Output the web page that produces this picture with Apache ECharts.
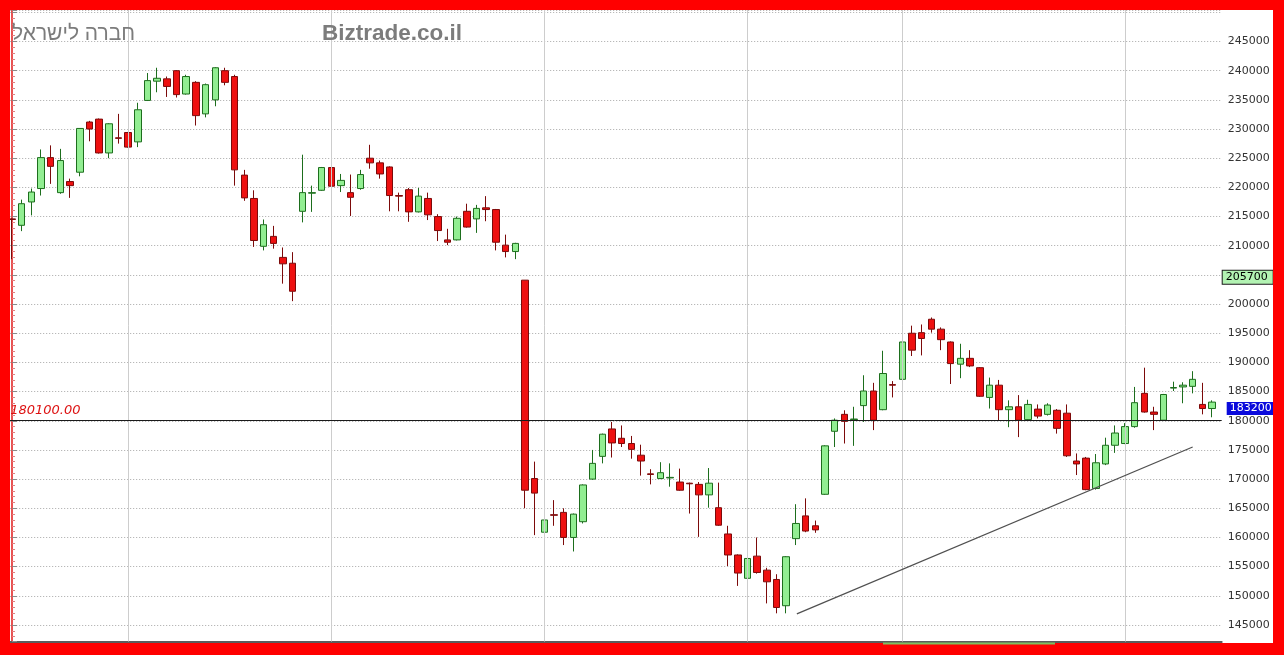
<!DOCTYPE html>
<html>
<head>
<meta charset="utf-8">
<title>חברה לישראל</title>
<script src="https://cdn.jsdelivr.net/npm/echarts@6/dist/echarts.min.js"></script>
<style>
  html, body { margin: 0; padding: 0; background: #ffffff; }
  #chart { width: 1284px; height: 655px; }
</style>
</head>
<body>
<div id="chart"></div>
<script>
// Daily OHLC prices, oldest first
const opens = [
  214600,213500,217500,219800,225100,219100,221000,222600,231200,231700,
  225900,228500,229400,227800,234900,238200,238600,240000,236000,238000,
  232600,235000,240000,239000,222100,218100,209900,211600,208000,207000,
  215900,219000,219500,223400,220300,219100,219800,225000,224200,223500,
  218600,219600,215800,218100,215000,211000,211000,215900,214600,216500,
  216200,210100,209000,204100,170100,160900,163900,164300,160000,162700,
  170000,173900,178600,177000,176100,174100,170900,170100,170200,169500,
  169300,169100,167300,165100,160600,157000,153000,156800,154400,152800,
  148300,159800,163700,162000,167400,178200,181100,180200,182600,185100,
  181900,186200,187100,195000,195100,197400,195700,193500,189700,190700,
  189100,184000,186100,181900,182400,180200,182000,181100,181800,181300,
  173100,173600,168400,172600,175800,176100,179000,184700,181500,180100,
  185600,185800,185900,182800,182100
];
const closes = [
  214500,217200,219200,225100,223600,224600,220300,230100,230000,225900,
  230900,228400,226900,233300,238300,238700,237300,235900,239000,232300,
  237600,240500,238000,223000,218200,210900,213600,210400,206900,202200,
  219100,219100,223400,220200,221200,218300,222200,224200,222300,218600,
  218500,215800,218500,215300,212600,210600,214700,213200,216400,216200,
  210600,209000,210400,168100,167600,163000,163800,160000,164000,169000,
  172700,177700,176200,176100,175100,173100,170800,171100,170300,168100,
  169200,167300,169300,162100,157000,153900,156400,154000,152400,148000,
  156700,162400,161100,161300,175700,180100,179900,180300,185100,180100,
  188100,186100,193500,192100,194100,195700,193900,189800,190700,189400,
  184200,186100,181900,182400,180100,182800,180800,182700,178700,174000,
  172600,168200,172800,175800,177900,179000,183100,181500,181100,184500,
  185700,186100,187100,182100,183200
];
const lows = [
  207700,212500,215200,218600,220600,218900,218200,221900,227900,225800,
  225000,227500,226800,226900,234800,236300,235500,235400,235900,230600,
  232000,233900,237500,220300,217700,209800,209200,209500,203500,200500,
  214000,215800,219400,217200,219200,215100,219600,223200,221500,215900,
  215900,214100,215700,214400,210800,210100,210900,213100,212200,214200,
  209200,208000,207700,165000,160400,160800,162000,158700,157600,162400,
  169900,172700,173700,175500,173500,170600,169100,170000,168700,168000,
  164100,160100,165100,162000,155100,151700,152700,153800,148700,147000,
  147000,158700,160900,160800,167300,175500,176100,175700,179800,178400,
  181800,184000,186400,191100,191200,195100,192100,186300,187300,189200,
  184100,182100,180100,178900,177200,180100,180400,180900,177800,173800,
  170700,168100,168200,172400,174500,176000,178800,181400,178400,180000,
  185100,183000,184700,181100,180600
];
const highs = [
  214700,217900,219800,226500,227200,226600,221500,230100,231400,231800,
  231000,232600,229500,234500,239600,240500,239000,240100,239300,238200,
  237800,240600,240500,239300,223000,219500,214500,213400,209700,208900,
  225600,220300,223500,223500,222300,222200,223000,227300,224600,223600,
  219100,219900,219900,219100,215400,212900,215000,217200,217000,218500,
  216300,211900,210500,204100,173000,166700,166400,165000,164100,169100,
  175000,177800,179800,179200,177400,175900,171700,172900,172700,171800,
  169400,169500,171900,169400,162000,157100,156700,160000,154800,153700,
  156800,165700,166700,162900,175800,180400,181800,182400,187800,186500,
  192000,186800,193600,196300,196500,197700,196000,193600,193200,192100,
  189200,187400,187000,183500,184400,183600,182800,183000,182000,182800,
  174400,173800,174300,177100,179200,179600,185800,189100,182400,184600,
  186700,186600,188500,186500,183500
];

// Sessions that open a new month (vertical separators)
const monthStarts = [12, 33, 55, 76, 92, 115];
// Support line drawn under the recent lows: [session, price]
const trendLine = [[81.1, 146900], [122.0, 175500]];
// Horizontal reference level and price tags on the scale
const refLevel = 180100;
const tagLevel = 205700;
const lastClose = 183200;

const Y_MIN = 142170;
const Y_MAX = 250400;

const candles = opens.map((o, i) => [i, o, closes[i], lows[i], highs[i]]);

const chart = echarts.init(document.getElementById('chart'), null, { renderer: 'canvas' });

function priceTag(value, textColor, bg, border, distance) {
  return {
    yAxis: value,
    lineStyle: { color: 'rgba(0,0,0,0)', width: 1, type: 'solid' },
    label: {
      show: true,
      position: 'end',
      distance: distance,
      verticalAlign: 'top',
      formatter: String(value),
      color: textColor,
      backgroundColor: bg,
      borderColor: border,
      borderWidth: border ? 1 : 0,
      padding: [1, 5, 1, 3],
      fontSize: 11,
      fontFamily: 'DejaVu Sans'
    }
  };
}

const option = {
  animation: false,
  backgroundColor: '#ffffff',
  grid: { left: 7.2, top: 10, width: 1214.5, height: 631.5 },
  xAxis: {
    type: 'value',
    min: -0.5,
    max: opens.length,
    axisLine: { show: true, onZero: false, lineStyle: { color: '#5c5c5c', width: 2 } },
    axisTick: { show: false },
    axisLabel: { show: false },
    splitLine: { show: false }
  },
  yAxis: {
    type: 'value',
    position: 'right',
    min: Y_MIN,
    max: Y_MAX,
    splitNumber: 21,
    axisLine: { show: true, lineStyle: { color: '#e01818', width: 1.5 } },
    axisTick: { show: true, length: 5, lineStyle: { color: '#8a8a8a' } },
    minorTick: { show: true, splitNumber: 5, length: 3, lineStyle: { color: '#e08080' } },
    axisLabel: {
      margin: 6,
      color: '#333333',
      fontSize: 11,
      fontFamily: 'DejaVu Sans',
      formatter: v => (v % 5000 === 0 && v <= 245000) ? String(v) : ''
    },
    splitLine: { show: true, lineStyle: { color: '#a8a8a8', type: [1, 2], width: 1 } }
  },
  series: [
    {
      name: 'months',
      type: 'line',
      data: [],
      silent: true,
      z: 1,
      markLine: {
        silent: true,
        symbol: 'none',
        animation: false,
        label: { show: false },
        lineStyle: { color: '#cdcdcd', type: 'solid', width: 1 },
        data: monthStarts.map(x => ({ xAxis: x }))
      }
    },
    {
      name: 'חברה לישראל',
      type: 'candlestick',
      data: candles,
      barWidth: 7,
      z: 3,
      itemStyle: {
        color: '#92ee92',
        color0: '#ee1010',
        borderColor: '#1d6e1d',
        borderColor0: '#7c0a0a',
        borderColorDoji: '#3a2020',
        borderWidth: 1
      },
      markLine: {
        silent: true,
        symbol: 'none',
        animation: false,
        data: [
          {
            yAxis: refLevel,
            lineStyle: { color: '#1a1a1a', width: 1, type: 'solid' },
            label: {
              show: true,
              position: 'insideStartTop',
              formatter: refLevel.toFixed(2),
              color: '#dd1111',
              fontStyle: 'italic',
              fontSize: 13,
              fontFamily: 'DejaVu Sans',
              distance: [3, 3]
            }
          },
          [
            { coord: trendLine[0], lineStyle: { color: '#505050', width: 1.2, type: 'solid' }, label: { show: false } },
            { coord: trendLine[1], lineStyle: { color: '#505050', width: 1.2, type: 'solid' }, label: { show: false } }
          ],
          priceTag(tagLevel, '#000000', '#b2f2b2', '#1a1a1a', 1),
          priceTag(lastClose, '#ffffff', '#0a0adc', null, 5)
        ]
      }
    }
  ],
  graphic: [
    {
      type: 'text', x: 12, y: 34, z: 20,
      style: { text: 'חברה לישראל', font: '21px "Liberation Sans"', fill: '#7c7c7c', verticalAlign: 'middle' }
    },
    {
      type: 'text', x: 322, y: 34, z: 20,
      style: { text: 'Biztrade.co.il', font: 'bold 22.5px "Liberation Sans"', fill: '#7c7c7c', verticalAlign: 'middle' }
    },
    // outer frame
    { type: 'rect', z: 100, silent: true, shape: { x: 0, y: 0, width: 1284, height: 10 }, style: { fill: '#ff0000' } },
    { type: 'rect', z: 100, silent: true, shape: { x: 0, y: 0, width: 10, height: 655 }, style: { fill: '#ff0000' } },
    { type: 'rect', z: 100, silent: true, shape: { x: 1273, y: 0, width: 11, height: 655 }, style: { fill: '#ff0000' } },
    { type: 'rect', z: 100, silent: true, shape: { x: 0, y: 643, width: 1284, height: 12 }, style: { fill: '#ff0000' } },
    { type: 'rect', z: 101, silent: true, shape: { x: 883, y: 642.5, width: 172, height: 2 }, style: { fill: '#7fbf5f' } }
  ]
};

chart.setOption(option);
</script>
</body>
</html>
